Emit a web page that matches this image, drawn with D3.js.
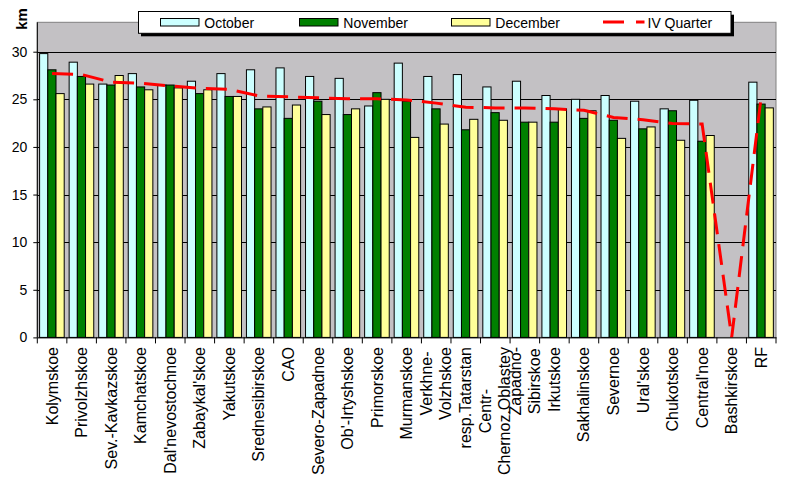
<!DOCTYPE html>
<html>
<head>
<meta charset="utf-8">
<script src="https://cdn.jsdelivr.net/npm/d3@7"></script>
<style>
  html, body { margin: 0; padding: 0; background: #fff; }
  svg { display: block; }
  text { font-family: "Liberation Sans", Arial, sans-serif; fill: #000; }
</style>
</head>
<body>
<svg id="chart" width="800" height="479"></svg>
<script>
const categories = ["Kolymskoe", "Privolzhskoe", "Sev.-Kavkazskoe", "Kamchatskoe", "Dal'nevostochnoe",
  "Zabaykal'skoe", "Yakutskoe", "Srednesibirskoe", "CAO", "Severo-Zapadnoe", "Ob'-Irtyshskoe",
  "Primorskoe", "Murmanskoe", "Verkhne-\nVolzhskoe", "resp.Tatarstan", "Centr-\nChernoz.Oblastey",
  "Zapadno-\nSibirskoe", "Irkutskoe", "Sakhalinskoe", "Severnoe", "Ural'skoe", "Chukotskoe",
  "Central'noe", "Bashkirskoe", "RF"];
const october  = [29.8, 28.9, 26.6, 27.7, 26.5, 26.9, 27.7, 28.1, 28.3, 27.4, 27.2, 24.3, 28.8, 27.4, 27.6, 26.3, 26.9, 25.4, 25.0, 25.4, 24.8, 24.0, 24.9, null, 26.8];
const november = [28.1, 27.4, 26.5, 26.3, 26.5, 25.6, 25.3, 24.0, 23.0, 24.8, 23.4, 25.7, 24.8, 24.0, 21.8, 23.6, 22.6, 22.6, 23.0, 22.8, 21.9, 23.8, 20.6, null, 24.5];
const december = [25.6, 26.6, 27.5, 26.0, 26.2, 26.0, 25.3, 24.2, 24.4, 23.4, 24.0, 25.0, 21.0, 22.4, 22.9, 22.8, 22.6, 24.0, 23.8, 20.9, 22.1, 20.7, 21.2, null, 24.1];
const quarter  = [27.7, 27.6, 26.8, 26.7, 26.4, 26.15, 26.05, 25.35, 25.26, 25.16, 25.05, 25.05, 24.94, 24.6, 24.17, 24.1, 24.1, 24.0, 23.85, 23.1, 22.85, 22.45, 22.4, 0, 25.3];
const seriesNames = ["October", "November", "December"];
const legendNames = ["October", "November", "December", "IV Quarter"];
const yTicks = [0, 5, 10, 15, 20, 25, 30];
const yTitle = "km";

const colors = { October: "#CCFFFF", November: "#008000", December: "#FFFF99", line: "#FF0000" };
const seriesData = { October: october, November: november, December: december };

const svg = d3.select("#chart");
const plot = { left: 37.3, right: 776, top: 22.3, bottom: 337.4 };

const x0 = d3.scaleBand().domain(categories).range([plot.left, plot.right]).paddingInner(0).paddingOuter(0);
const bw = x0.bandwidth();
const x1 = d3.scaleBand().domain(seriesNames).range([2.3, 2.3 + 24.6]).padding(0);
const y = d3.scaleLinear().domain([0, 30]).range([plot.bottom, 51.7]);

// plot background
svg.append("rect")
  .attr("x", plot.left).attr("y", plot.top)
  .attr("width", plot.right - plot.left).attr("height", plot.bottom - plot.top)
  .attr("fill", "#C3C1C4").attr("stroke", "#808080").attr("stroke-width", 1);

// gridlines
svg.append("g").selectAll("line").data(yTicks.filter(d => d > 0)).join("line")
  .attr("x1", plot.left).attr("x2", plot.right)
  .attr("y1", d => Math.round(y(d)) + 0.5).attr("y2", d => Math.round(y(d)) + 0.5)
  .attr("stroke", "#000").attr("stroke-width", 1);

// bars
const rows = [];
categories.forEach((c, i) => {
  seriesNames.forEach(s => {
    const v = seriesData[s][i];
    if (v != null) rows.push({ cat: c, s, v });
  });
});
svg.append("g").selectAll("rect").data(rows).join("rect")
  .attr("x", d => x0(d.cat) + x1(d.s))
  .attr("y", d => y(d.v))
  .attr("width", x1.bandwidth())
  .attr("height", d => y(0) - y(d.v))
  .attr("fill", d => colors[d.s])
  .attr("stroke", "#000").attr("stroke-width", 1);

// line
const line = d3.line()
  .x((d, i) => x0(categories[i]) + bw / 2)
  .y(d => y(d));
svg.append("path")
  .datum(quarter)
  .attr("d", line)
  .attr("fill", "none")
  .attr("stroke", colors.line)
  .attr("stroke-width", 3)
  .attr("stroke-dasharray", "21,10");

// y axis
const yAxis = d3.axisLeft(y).tickValues(yTicks).tickSize(4).tickPadding(6).tickFormat(d3.format("d"));
const gy = svg.append("g").attr("transform", `translate(${plot.left},0)`).call(yAxis);
gy.select(".domain").remove();
gy.selectAll(".tick line").attr("stroke", "#000");
gy.selectAll(".tick text").style("font-size", "14px").attr("fill", "#000");
svg.append("line").attr("x1", plot.left).attr("x2", plot.left)
  .attr("y1", plot.top).attr("y2", plot.bottom).attr("stroke", "#000");

// x axis
const xAxis = d3.axisBottom(x0).tickSize(0).tickFormat("");
const gx = svg.append("g").attr("transform", `translate(0,${plot.bottom})`).call(xAxis);
gx.select(".domain").attr("stroke", "#000");
const bounds = categories.map(c => x0(c)).concat([plot.right]);
svg.append("g").selectAll("line").data(bounds).join("line")
  .attr("x1", d => d).attr("x2", d => d)
  .attr("y1", plot.bottom).attr("y2", plot.bottom + 6)
  .attr("stroke", "#000");

// x labels (rotated, wrapped lines centred)
const labelTop = 347;
const lineH = 19;
categories.forEach(c => {
  const lines = c.split("\n");
  const g = svg.append("g")
    .attr("transform", `translate(${x0(c) + bw / 2},${labelTop}) rotate(-90)`);
  const texts = lines.map((t, i) => g.append("text")
    .attr("y", (i - (lines.length - 1) / 2) * lineH)
    .attr("dominant-baseline", "central")
    .style("font-size", "16px")
    .text(t));
  const L = d3.max(texts, t => t.node().getComputedTextLength());
  texts.forEach(t => t.attr("x", -L / 2).attr("text-anchor", "middle"));
});

// y title
svg.append("text")
  .attr("transform", "translate(21,19) rotate(-90)")
  .attr("text-anchor", "middle").attr("dominant-baseline", "central")
  .style("font-size", "15px").style("font-weight", "bold")
  .text(yTitle);

// legend
const lg = svg.append("g");
lg.append("rect").attr("x", 141).attr("y", 14.7).attr("width", 593).attr("height", 21.6).attr("fill", "#000");
lg.append("rect").attr("x", 138.5).attr("y", 11.5).attr("width", 592.5).attr("height", 21.8)
  .attr("fill", "#fff").attr("stroke", "#000").attr("stroke-width", 1);
const legendX = [160.5, 299.5, 451.5, 603];
legendNames.forEach((n, i) => {
  const lx = legendX[i];
  if (i < 3) {
    lg.append("rect").attr("x", lx).attr("y", 18.5).attr("width", 38.5).attr("height", 7.5)
      .attr("fill", colors[n]).attr("stroke", "#000").attr("stroke-width", 1);
  } else {
    lg.append("line").attr("x1", lx).attr("x2", lx + 41.5).attr("y1", 22).attr("y2", 22)
      .attr("stroke", colors.line).attr("stroke-width", 3).attr("stroke-dasharray", "21,12");
  }
  lg.append("text").attr("x", i < 3 ? lx + 43.8 : lx + 44.5).attr("y", 22.5)
    .attr("dominant-baseline", "central")
    .style("font-size", "14px").text(n);
});
</script>
</body>
</html>
